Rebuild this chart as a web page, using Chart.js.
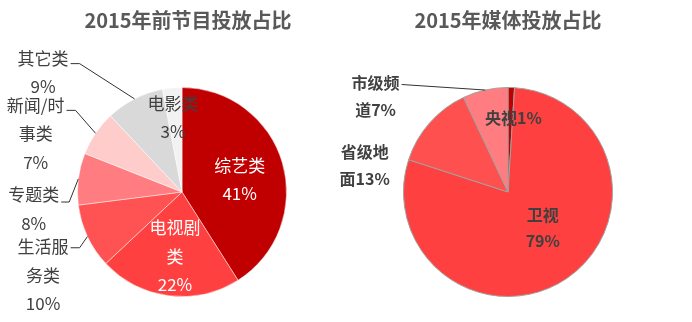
<!DOCTYPE html>
<html>
<head>
<meta charset="utf-8">
<script src="https://cdn.jsdelivr.net/npm/chart.js@4/dist/chart.umd.min.js"></script>
<style>
  html, body { margin: 0; padding: 0; background: #ffffff; }
  #wrap { position: relative; width: 692px; height: 322px; overflow: hidden; }
  .box { position: absolute; top: 0; height: 322px; }
  #boxL { left: 0; width: 346px; }
  #boxR { left: 316px; width: 376px; }
</style>
</head>
<body>
<div id="wrap">
  <div class="box" id="boxL"><canvas id="chartL" width="346" height="322"></canvas></div>
  <div class="box" id="boxR"><canvas id="chartR" width="376" height="322"></canvas></div>
</div>
<script>
// ---- data ----
const leftTitle = '2015年前节目投放占比';
const leftCategories = ['综艺类', '电视剧类', '生活服务类', '专题类', '新闻/时事类', '其它类', '电影类'];
const leftValues = [41, 22, 10, 8, 7, 9, 3];
const leftLabelLines = [['综艺类', '41%'], ['电视剧', '类', '22%'], ['生活服', '务类', '10%'], ['专题类', '8%'], ['新闻/时', '事类', '7%'], ['其它类', '9%'], ['电影类', '3%']];

const rightTitle = '2015年媒体投放占比';
const rightCategories = ['央视', '卫视', '省级地面', '市级频道'];
const rightValues = [1, 79, 13, 7];
const rightLabelLines = [['央视1%'], ['卫视', '79%'], ['省级地', '面13%'], ['市级频', '道7%']];

// ---- styles ----
const leftColors = ['#C00000', '#FF4040', '#FF5252', '#FF7C80', '#FFCCCC', '#D9D9D9', '#F2F2F2'];
const rightColors = ['#C00000', '#FF4040', '#FF5050', '#FF7C80'];
const FONT = '"Noto Sans CJK SC", "Noto Sans", sans-serif';

// label placement, in units of pie radius relative to pie centre
const leftPlacement = [
  { dx: 0.552, dy: -0.255, color: '#ffffff' },
  { dx: -0.067, dy: 0.343, color: '#ffffff' },
  { dx: -1.329, dy: 0.524, color: '#404040', leader: true, ly: 1, elbow: 9 },
  { dx: -1.419, dy: 0.029, color: '#404040', leader: true, ly: 7, elbow: 8 },
  { dx: -1.400, dy: -0.829, color: '#404040', leader: true, ly: 5, elbow: 9 },
  { dx: -1.329, dy: -1.281, color: '#404040', leader: true, ly: 5.5, elbow: 9 },
  { dx: -0.086, dy: -0.848, color: '#404040' }
];
const rightPlacement = [
  { dx: 0.052, dy: -0.705, color: '#404040' },
  { dx: 0.333, dy: 0.219, color: '#404040' },
  { dx: -1.371, dy: -0.381, color: '#404040' },
  { dx: -1.267, dy: -1.043, color: '#404040', leader: true, ly: 1.5, elbow: 0 }
];

function labelPlugin(title, titleDx, lines, placement, fontSpec, gap) {
  return {
    id: 'pieLabels',
    afterDraw(chart) {
      const ctx = chart.ctx;
      const meta = chart.getDatasetMeta(0);
      const first = meta.data[0];
      ctx.save();
      ctx.textAlign = 'center';
      ctx.textBaseline = 'middle';
      // title
      ctx.font = 'bold 20px ' + FONT;
      ctx.fillStyle = '#595959';
      ctx.fillText(title, first.x + titleDx, 20);
      // slice labels
      ctx.font = fontSpec;
      meta.data.forEach((arc, i) => {
        const p = placement[i];
        const ls = lines[i];
        const R = arc.outerRadius;
        const tx = arc.x + p.dx * R;
        const ty = arc.y + p.dy * R;
        ctx.fillStyle = p.color;
        ls.forEach((t, k) => ctx.fillText(t, tx, ty + k * gap));
        if (p.leader) {
          const mid = (arc.startAngle + arc.endAngle) / 2;
          const ex = arc.x + Math.cos(mid) * R;
          const ey = arc.y + Math.sin(mid) * R;
          const w = ctx.measureText(ls[0]).width;
          const sx = tx + w / 2 + 2;
          const sy = ty + p.ly;
          ctx.strokeStyle = '#333333';
          ctx.lineWidth = 1;
          ctx.beginPath();
          ctx.moveTo(sx, sy);
          ctx.lineTo(sx + p.elbow, sy);
          ctx.lineTo(ex, ey);
          ctx.stroke();
        }
      });
      ctx.restore();
    }
  };
}

function makePie(id, cats, vals, colors, border, padding, plugin) {
  return new Chart(document.getElementById(id), {
    type: 'pie',
    data: {
      labels: cats,
      datasets: [{
        data: vals,
        backgroundColor: colors,
        borderColor: border,
        borderWidth: 1
      }]
    },
    options: {
      responsive: false,
      maintainAspectRatio: false,
      animation: false,
      layout: { padding: padding },
      plugins: {
        legend: { display: false },
        tooltip: { enabled: false },
        title: { display: false }
      }
    },
    plugins: [plugin]
  });
}

makePie('chartL', leftCategories, leftValues, leftColors, 'rgba(255,255,255,0.45)',
  { left: 77, right: 59, top: 87, bottom: 25 },
  labelPlugin(leftTitle, 6, leftLabelLines, leftPlacement, '17px ' + FONT, 28.5));

makePie('chartR', rightCategories, rightValues, rightColors, '#A0A0A0',
  { left: 87, right: 79, top: 87, bottom: 25 },
  labelPlugin(rightTitle, 0, rightLabelLines, rightPlacement, 'bold 16px ' + FONT, 26.5));
</script>
</body>
</html>
